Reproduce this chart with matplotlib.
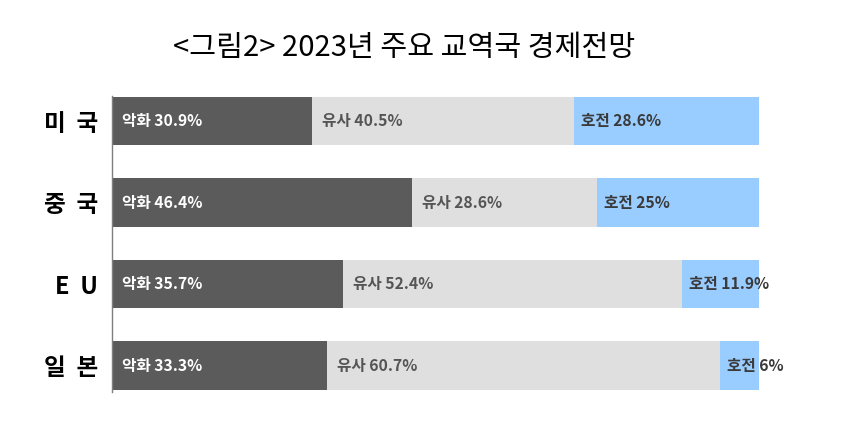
import numpy as np
import matplotlib.pyplot as plt

plt.rcParams['font.family'] = ['Noto Sans CJK KR', 'DejaVu Sans']

countries = ['미  국', '중  국', 'E  U', '일  본']
worse = [30.9, 46.4, 35.7, 33.3]
similar = [40.5, 28.6, 52.4, 60.7]
better = [28.6, 25, 11.9, 6]
better_txt = ['28.6%', '25%', '11.9%', '6%']

c_worse = '#5b5b5b'
c_similar = '#dfdfdf'
c_better = '#99ccff'

fig = plt.figure(figsize=(8.41, 4.33), dpi=100)
ax = fig.add_axes([112 / 841, 1 - 392 / 433, 647 / 841, 296 / 433])

y = np.arange(len(countries))
h = 0.595
worse = np.array(worse)
similar = np.array(similar)
better = np.array(better)

ax.barh(y, worse, height=h, color=c_worse)
ax.barh(y, similar, left=worse, height=h, color=c_similar)
ax.barh(y, better, left=worse + similar, height=h, color=c_better)

fs = 11.3
for i in range(len(countries)):
    ax.annotate('악화 %.1f%%' % worse[i], (0, y[i]), xytext=(7, 0),
                textcoords='offset points', va='center', ha='left',
                color='white', fontsize=fs, fontweight='bold')
    ax.annotate('유사 %.1f%%' % similar[i], (worse[i], y[i]), xytext=(7, 0),
                textcoords='offset points', va='center', ha='left',
                color='#555555', fontsize=fs, fontweight='bold')
    ax.annotate('호전 ' + better_txt[i], (worse[i] + similar[i], y[i]),
                xytext=(5, 0), textcoords='offset points', va='center',
                ha='left', color='#3a3a3a', fontsize=fs, fontweight='bold')

ax.set_xlim(0, 100)
ax.set_ylim(3.325, -0.307)
ax.set_yticks(y)
ax.set_yticklabels(countries, fontsize=17, fontweight='bold', color='black')
ax.tick_params(axis='y', length=0, pad=10)
ax.set_xticks([])
for s in ['top', 'right', 'bottom']:
    ax.spines[s].set_visible(False)
ax.spines['left'].set_color('#7f7f7f')
ax.spines['left'].set_linewidth(1)

fig.text(404 / 841, 1 - 48 / 433, '<그림2> 2023년 주요 교역국 경제전망',
         ha='center', va='center', fontsize=21, color='black')

fig.savefig('out.png', dpi=100)
